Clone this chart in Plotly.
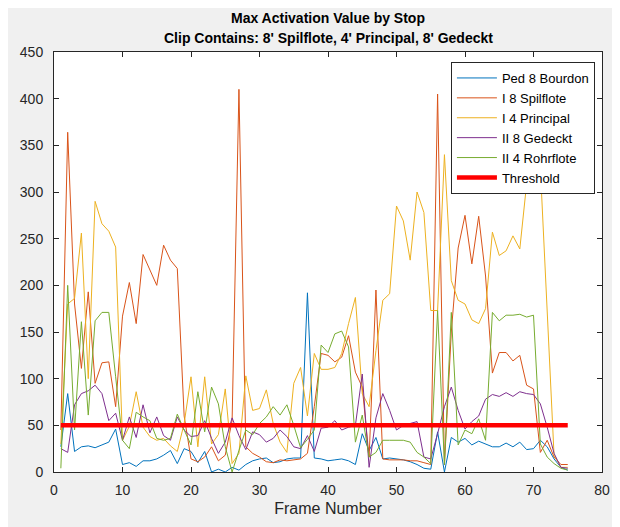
import plotly.graph_objects as go

frames = list(range(1, 76))

ped8_bourdon = [27, 84, 22, 27, 28, 26, 29, 32, 46, 8,
                10, 6, 12, 12, 14, 18, 23, 9, 25, 22,
                10, 22, 0, 3, 0, 5, 2, 8, 12, 14,
                15, 10, 11, 14, 15, 15, 192, 15, 14, 12,
                13, 14, 12, 8, 41, 23, 37, 14, 15, 14,
                13, 11, 8, 4, 3, 43, 0, 37, 32, 36,
                29, 33, 30, 27, 27, 31, 27, 32, 24, 25,
                34, 27, 14, 5, 2]

i8_spilflote = [45, 364, 180, 111, 193, 95, 117, 118, 70, 167,
                203, 159, 233, 216, 200, 243, 227, 218, 60, 14,
                11, 16, 27, 12, 18, 55, 410, 27, 20, 16,
                11, 10, 13, 12, 13, 14, 20, 70, 127, 125,
                118, 123, 146, 107, 91, 16, 195, 14, 13, 13,
                13, 12, 12, 10, 8, 405, 8, 150, 240, 275,
                223, 274, 210, 106, 128, 128, 119, 125, 93, 89,
                21, 34, 16, 8, 8]

i4_principal = [30, 180, 186, 256, 100, 290, 266, 258, 241, 34,
                49, 86, 48, 38, 34, 36, 28, 22, 52, 102,
                27, 102, 30, 40, 89, 9, 20, 103, 66, 68,
                88, 52, 32, 21, 95, 112, 60, 127, 110, 110,
                112, 127, 159, 187, 84, 70, 130, 184, 191, 285,
                269, 227, 300, 278, 173, 173, 340, 205, 184, 180,
                163, 159, 175, 257, 232, 237, 253, 239, 309, 298,
                326, 170, 18, 5, 5]

ii8_gedeckt = [25, 21, 72, 84, 87, 93, 84, 55, 63, 34,
               59, 37, 72, 42, 59, 39, 34, 59, 45, 38,
               39, 55, 36, 20, 32, 58, 39, 24, 43, 40,
               32, 36, 45, 38, 27, 25, 39, 22, 47, 48,
               55, 45, 48, 50, 105, 5, 58, 84, 66, 45,
               50, 52, 54, 16, 14, 41, 70, 91, 66, 46,
               54, 60, 78, 83, 81, 85, 81, 86, 84, 83,
               73, 48, 20, 5, 4]

ii4_rohrflote = [4, 200, 45, 161, 61, 162, 171, 171, 102, 34,
                 25, 64, 59, 55, 36, 34, 36, 62, 45, 29,
                 86, 43, 91, 73, 27, 0, 23, 45, 40, 52,
                 59, 70, 61, 72, 50, 26, 35, 45, 136, 128,
                 148, 151, 134, 32, 61, 16, 21, 34, 34, 34,
                 34, 32, 21, 16, 9, 173, 8, 171, 29, 45,
                 41, 57, 34, 171, 162, 168, 168, 169, 166, 168,
                 30, 16, 9, 4, 2]

threshold_x = [1, 75]
threshold_y = [50, 50]

series = [
    ("Ped 8 Bourdon", ped8_bourdon, "#0072BD"),
    ("I 8 Spilflote", i8_spilflote, "#D95319"),
    ("I 4 Principal", i4_principal, "#EDB120"),
    ("II 8 Gedeckt", ii8_gedeckt, "#7E2F8E"),
    ("II 4 Rohrflote", ii4_rohrflote, "#77AC30"),
]

fig = go.Figure()
for name, vals, col in series:
    fig.add_trace(go.Scatter(x=frames, y=vals, mode="lines", name=name,
                             line=dict(color=col, width=1)))
fig.add_trace(go.Scatter(x=threshold_x, y=threshold_y, mode="lines", name="Threshold",
                         line=dict(color="#FF0000", width=4.5)))

font_family = "Liberation Sans, Arial, sans-serif"
axis_common = dict(showline=True, linecolor="#262626", linewidth=1, mirror="ticks",
                   ticks="inside", ticklen=5, tickcolor="#262626", showgrid=False,
                   zeroline=False,
                   tickfont=dict(family=font_family, size=14, color="#262626"))

ml, mt, mr, mb = 39, 44, 26, 63
ph = 527 - mt - mb
pw = 620 - ml - mr
x0 = 8 + ml          # page x of plot left
ybot = 8 + 527 - mb  # page y of plot bottom

fig.update_layout(
    width=620, height=527,
    paper_bgcolor="#F0F0F0", plot_bgcolor="#FFFFFF",
    margin=dict(l=ml, r=mr, t=mt, b=mb),
    font=dict(family=font_family, color="#262626"),
    xaxis=dict(range=[0, 80], dtick=10, tick0=0, ticklabelstandoff=5,
               title=dict(text="Frame Number", font=dict(family=font_family, size=16, color="#262626"), standoff=6),
               **axis_common),
    yaxis=dict(range=[0, 450], dtick=50, tick0=0, ticklabelstandoff=7, **axis_common),
    showlegend=True,
    legend=dict(x=(449 - x0) / pw, y=(ybot - 62) / ph, xanchor="left", yanchor="top",
                bgcolor="#FFFFFF", bordercolor="#262626", borderwidth=1,
                font=dict(family=font_family, size=13, color="#000000"),
                tracegroupgap=0, itemwidth=40),
    annotations=[
        dict(text="<b>Max Activation Value by Stop</b>",
             x=(325 - x0) / pw, y=(ybot - 18) / ph, xref="paper", yref="paper", yanchor="middle",
             showarrow=False, font=dict(family=font_family, size=14, color="#000000")),
        dict(text="<b>Clip Contains: 8' Spilflote, 4' Principal, 8' Gedeckt</b>",
             x=(325 - x0) / pw, y=(ybot - 38) / ph, xref="paper", yref="paper", yanchor="middle",
             showarrow=False, font=dict(family=font_family, size=14, color="#000000")),
    ],
)

fig.write_html("out.html")
